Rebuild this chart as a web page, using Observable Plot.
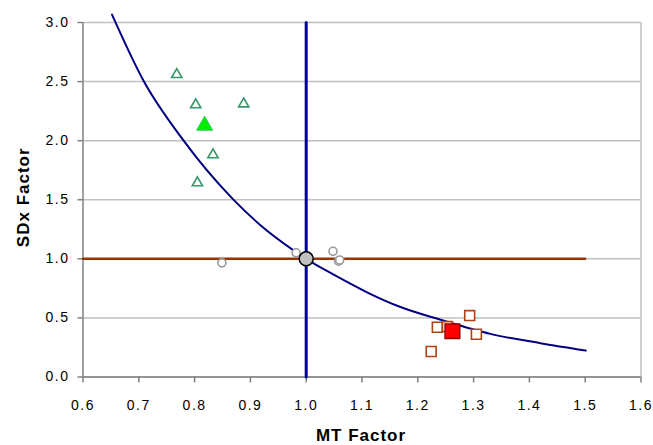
<!DOCTYPE html>
<html><head><meta charset="utf-8">
<script src="https://cdn.jsdelivr.net/npm/d3@7"></script>
<script src="https://cdn.jsdelivr.net/npm/@observablehq/plot@0.6"></script>
<style>
body{margin:0;background:#fff;}
#chart svg{display:block;}
g[aria-label="x-axis tick label"] text, g[aria-label="y-axis tick label"] text{letter-spacing:1.5px;}
</style></head><body><div id="chart"></div>
<script>
// Axis ticks
const xTicks = [0.6,0.7,0.8,0.9,1.0,1.1,1.2,1.3,1.4,1.5,1.6];
const yTicks = [0,0.5,1.0,1.5,2.0,2.5,3.0];
const xTitle = "MT Factor";
const yTitle = "SDx Factor";

// Trade-off curve
const curveX = [0.652,0.709,0.778,0.870,0.918,0.978,1.0,1.011,1.049,1.109,1.169,1.241,1.330,1.420,1.501];
const curveY = [3.067,2.503,2.015,1.499,1.285,1.070,1.0,0.968,0.867,0.717,0.592,0.484,0.365,0.286,0.224];

// Reference lines
const hLineX = [0.6,1.5];
const hLineY = [1.0,1.0];
const vLineX = [1.0,1.0];
const vLineY = [0,3.0];

// Green triangles
const triX = [0.768,0.802,0.888,0.833,0.805];
const triY = [2.559,2.303,2.311,1.880,1.643];
const triMeanX = [0.818];
const triMeanY = [2.128];

// Grey circles
const circX = [0.849,0.982,1.048,1.058,1.060];
const circY = [0.966,1.051,1.064,0.980,0.990];
const circMeanX = [1.0];
const circMeanY = [1.0];

// Brown squares
const sqX = [1.224,1.235,1.253,1.293,1.305];
const sqY = [0.216,0.421,0.427,0.520,0.362];
const sqMeanX = [1.262];
const sqMeanY = [0.387];

const font = "'Liberation Sans', Arial, sans-serif";

const chart = Plot.plot({
  width: 653,
  height: 445,
  marginLeft: 82.5,
  marginRight: 12.5,
  marginTop: 22,
  marginBottom: 68.5,
  style: {fontFamily: font, background: "#fff", color: "#000"},
  x: {domain: [xTicks[0], xTicks[xTicks.length-1]]},
  y: {domain: [yTicks[0], yTicks[yTicks.length-1]]},
  marks: [
    Plot.gridY(yTicks, {stroke: "#c0c0c0", strokeOpacity: 1, strokeWidth: 1.5}),
    Plot.ruleX([xTicks[xTicks.length-1]], {stroke: "#c0c0c0", strokeWidth: 1.5}),
    Plot.ruleY([yTicks[0]], {stroke: "#808080", strokeWidth: 1.5}),
    Plot.ruleX([xTicks[0]], {stroke: "#808080", strokeWidth: 1.5}),
    Plot.axisX({ticks: xTicks, tickFormat: d => d.toFixed(1), tickSize: 6, tickPadding: 17.5, stroke: "#808080", strokeWidth: 1.5, fontSize: 14, label: null}),
    Plot.axisY({ticks: yTicks, tickFormat: d => d.toFixed(1), tickSize: 5, tickPadding: 8.5, stroke: "#808080", strokeWidth: 1.5, fontSize: 14, label: null}),
    Plot.line(hLineX, {x: hLineX, y: hLineY, stroke: "#993300", strokeWidth: 2.5}),
    Plot.line(curveX, {x: curveX, y: curveY, curve: "monotone-x", stroke: "#000080", strokeWidth: 2}),
    Plot.line(vLineX, {x: vLineX, y: vLineY, stroke: "#000099", strokeWidth: 3}),
    Plot.dot(triX, {x: triX, y: triY, symbol: "triangle", r: 3.8, stroke: "#339966", strokeWidth: 1.6, fill: "white"}),
    Plot.dot(triMeanX, {x: triMeanX, y: triMeanY, symbol: "triangle", r: 6, stroke: "#33cc66", strokeWidth: 1, fill: "#00ee00"}),
    Plot.dot(circX, {x: circX, y: circY, symbol: "circle", r: 4, stroke: "#999999", strokeWidth: 1.6, fill: "white"}),
    Plot.dot(circMeanX, {x: circMeanX, y: circMeanY, symbol: "circle", r: 7, stroke: "#000", strokeWidth: 1.5, fill: "#c0c0c0"}),
    Plot.dot(sqX, {x: sqX, y: sqY, symbol: "square", r: 5.6, stroke: "#b0420f", strokeWidth: 1.6, fill: "white"}),
    Plot.dot(sqMeanX, {x: sqMeanX, y: sqMeanY, symbol: "square", r: 8.3, stroke: "#990000", strokeWidth: 1.5, fill: "#ff0000"}),
    Plot.text([xTitle], {text: d => d, frameAnchor: "bottom", lineAnchor: "middle", textAnchor: "middle", dy: 58.5, dx: -1, fontSize: 17, fontWeight: "bold", fill: "#000"}),
    Plot.text([yTitle], {text: d => d, frameAnchor: "left", lineAnchor: "middle", textAnchor: "middle", dx: -59.5, dy: -2.5, rotate: -90, fontSize: 17, fontWeight: "bold", fill: "#000"})
  ]
});
chart.querySelectorAll("text").forEach(t => {
  if (t.textContent === xTitle || t.textContent === yTitle) t.style.letterSpacing = "1px";
});
document.getElementById("chart").appendChild(chart);
</script>
</body></html>
